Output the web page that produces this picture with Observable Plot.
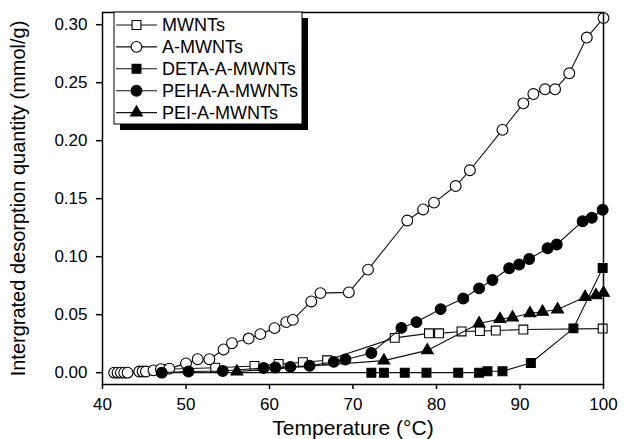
<!DOCTYPE html>
<html><head><meta charset="utf-8">
<script src="https://cdn.jsdelivr.net/npm/d3@7"></script>
<script src="https://cdn.jsdelivr.net/npm/@observablehq/plot@0.6"></script>
<style>
body{margin:0;background:#fff;}
svg{display:block;}
</style>
</head><body><div id="chart"></div>
<script>
// ---- data ----
const seriesNames = ["MWNTs", "A-MWNTs", "DETA-A-MWNTs", "PEHA-A-MWNTs", "PEI-A-MWNTs"];

const mwntsT = [47.5, 53.5, 58.2, 61.1, 64.0, 66.9, 75.0, 79.1, 80.3, 83.0, 85.2, 87.1, 90.4, 99.9];
const mwntsQ = [0.003, 0.0043, 0.0058, 0.0075, 0.009, 0.0107, 0.030, 0.0339, 0.0339, 0.0355, 0.0358, 0.0363, 0.0372, 0.038];

const amwntsT = [41.4, 41.8, 42.2, 42.6, 43.0, 44.4, 44.8, 45.2, 46.1, 47.0, 48.0, 50.0, 51.4, 52.8, 54.5, 55.5, 57.5, 58.9, 60.6, 62.0, 62.8, 65.0, 66.1, 69.5, 71.8, 76.5, 78.4, 79.7, 82.3, 84.0, 87.9, 90.4, 91.6, 93.0, 94.2, 95.9, 98.0, 100.0];
const amwntsQ = [0, 0, 0, 0, 0, 0.001, 0.001, 0.001, 0.002, 0.003, 0.0035, 0.008, 0.0116, 0.0116, 0.020, 0.0254, 0.0294, 0.0332, 0.0384, 0.0436, 0.0455, 0.0614, 0.0686, 0.0692, 0.0888, 0.1312, 0.1407, 0.1466, 0.1609, 0.1745, 0.2093, 0.2322, 0.2402, 0.2443, 0.2443, 0.2581, 0.2889, 0.3057];

const detaT = [42.0, 72.2, 73.7, 76.2, 78.8, 82.6, 85.1, 86.1, 87.9, 91.3, 96.4, 99.9];
const detaQ = [0, 0, 0, 0, 0, 0, 0, 0.0012, 0.0012, 0.0083, 0.0382, 0.0903];

const pehaT = [47.1, 50.3, 54.4, 59.3, 60.7, 62.5, 64.8, 67.7, 69.1, 72.2, 75.8, 77.6, 80.5, 83.2, 85.1, 86.7, 88.7, 89.9, 91.1, 93.3, 94.4, 97.5, 98.6, 99.9];
const pehaQ = [0, 0.001, 0.0015, 0.004, 0.0045, 0.005, 0.006, 0.0093, 0.0113, 0.017, 0.0386, 0.0436, 0.0548, 0.064, 0.0727, 0.0799, 0.090, 0.0932, 0.098, 0.1073, 0.1105, 0.1306, 0.1336, 0.1405];

const peiT = [56.1, 73.7, 78.9, 85.1, 87.6, 89.1, 91.2, 92.7, 94.5, 97.8, 99.1, 100.0];
const peiQ = [0.001, 0.0104, 0.0192, 0.0424, 0.0462, 0.0476, 0.0512, 0.0525, 0.0545, 0.0652, 0.0667, 0.0688];

const xTicks = [40, 50, 60, 70, 80, 90, 100];
const yTicks = [0, 0.05, 0.10, 0.15, 0.20, 0.25, 0.30];
const xLabel = "Temperature (°C)";
const yLabel = "Intergrated desorption quantity (mmol/g)";

// ---- build ----
const zip = (T, Q) => T.map((t, i) => ({t, q: Q[i]}));
const styles = [
  {symbol: "square", fill: "white", r: 5},
  {symbol: "circle", fill: "white", r: 5.4},
  {symbol: "square", fill: "black", r: 5},
  {symbol: "circle", fill: "black", r: 5.4},
  {symbol: "triangle", fill: "black", r: 4.4}
];
const seriesData = [zip(mwntsT, mwntsQ), zip(amwntsT, amwntsQ), zip(detaT, detaQ), zip(pehaT, pehaQ), zip(peiT, peiQ)];
const drawOrder = [2, 0, 1, 3, 4];

const marks = [];
for (const i of drawOrder) {
  marks.push(Plot.line(seriesData[i], {x: "t", y: "q", stroke: "#111", strokeWidth: 1.1}));
  marks.push(Plot.dot(seriesData[i], {x: "t", y: "q", symbol: styles[i].symbol, r: styles[i].r, fill: styles[i].fill, stroke: "#000", strokeWidth: 1.1}));
}

const plot = Plot.plot({
  width: 634,
  height: 439,
  marginLeft: 102,
  marginRight: 31,
  marginTop: 12,
  marginBottom: 55,
  style: {fontFamily: "'Liberation Sans', Arial, sans-serif", background: "white", color: "black"},
  x: {domain: [40, 100]},
  y: {domain: [-0.0102, 0.3105]},
  marks: [
    ...marks,
    Plot.frame({stroke: "black", strokeWidth: 1.5}),
    Plot.axisX({ticks: xTicks, tickSize: 5, tickPadding: 8, fontSize: 17, tickFormat: d => String(d), label: null, strokeWidth: 1.5}),
    Plot.axisY({ticks: yTicks, tickSize: 6, tickPadding: 9, fontSize: 17, tickFormat: d3.format(".2f"), label: null, strokeWidth: 1.5}),
    Plot.text([xLabel], {text: d => d, frameAnchor: "bottom", dy: 44, fontSize: 21, lineAnchor: "middle", textAnchor: "middle"}),
    Plot.text([yLabel], {text: d => d, frameAnchor: "left", dx: -84, rotate: -90, fontSize: 20, lineAnchor: "middle", textAnchor: "middle"})
  ]
});

document.getElementById("chart").appendChild(plot);

// ---- legend box with shadow ----
const svg = d3.select(plot);
const lg = svg.append("g").attr("text-anchor", "start");
const bx = 114, by = 12, bw = 188, bh = 112;
lg.append("rect").attr("x", bx + 6).attr("y", by + 6).attr("width", bw).attr("height", bh).attr("fill", "black");
lg.append("rect").attr("x", bx).attr("y", by).attr("width", bw).attr("height", bh).attr("fill", "white").attr("stroke", "black").attr("stroke-width", 1);
const symMap = {square: d3.symbolSquare, circle: d3.symbolCircle, triangle: d3.symbolTriangle};
seriesNames.forEach((name, i) => {
  const yy = 25 + i * 21.9;
  lg.append("line").attr("x1", 116).attr("x2", 157).attr("y1", yy).attr("y2", yy).attr("stroke", "#111").attr("stroke-width", 1.1);
  const s = styles[i];
  lg.append("path")
    .attr("d", d3.symbol(symMap[s.symbol], Math.PI * s.r * s.r)())
    .attr("transform", `translate(136.5,${yy})`)
    .attr("fill", s.fill).attr("stroke", "black").attr("stroke-width", 1.1);
  lg.append("text").attr("x", 162).attr("y", yy).attr("dy", "0.35em")
    .attr("text-anchor", "start")
    .attr("font-size", 18).attr("font-family", "'Liberation Sans', Arial, sans-serif")
    .attr("fill", "black").text(name);
});
</script>
</body></html>
